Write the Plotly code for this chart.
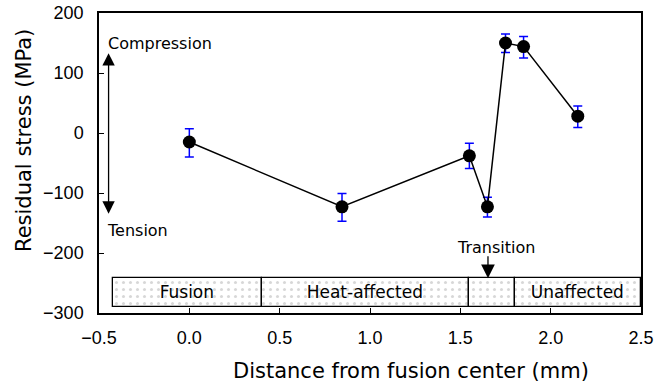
import plotly.graph_objects as go

# Data
distance = [0.0, 0.845, 1.55, 1.65, 1.75, 1.85, 2.15]
stress = [-15, -123, -38, -123, 150, 144, 28]
err_plus = [22, 22, 21, 16, 15, 17, 17]
err_minus = [25, 24, 21, 17, 16, 19, 19]

zone_names = ["Fusion", "Heat-affected", "", "Unaffected"]
zone_start = [-0.425, 0.40, 1.55, 1.80]
zone_end = [0.40, 1.55, 1.80, 2.50]
zone_bottom = -290
zone_top = -242

x_title = "Distance from fusion center (mm)"
y_title = "Residual stress (MPa)"

TXT = "DejaVu Sans"
TICK = "Liberation Sans"

fig = go.Figure()

fig.add_trace(go.Bar(
    orientation="h",
    y=[(zone_top + zone_bottom) / 2] * len(zone_names),
    x=[e - s for s, e in zip(zone_start, zone_end)],
    base=zone_start,
    width=zone_top - zone_bottom,
    text=zone_names,
    textposition="inside",
    insidetextanchor="middle",
    textangle=0,
    constraintext="none",
    textfont=dict(family=TXT, size=17, color="black"),
    marker=dict(
        color="white",
        line=dict(color="black", width=1.3),
        pattern=dict(shape=".", fgcolor="#b0b0b0", bgcolor="white", size=7, solidity=0.15),
    ),
    hoverinfo="skip",
    showlegend=False,
))

fig.add_trace(go.Scatter(
    x=distance, y=stress,
    mode="lines+markers",
    line=dict(color="black", width=1.5),
    marker=dict(color="black", size=13),
    error_y=dict(type="data", array=err_plus, arrayminus=err_minus,
                 color="blue", thickness=1.5, width=4.5, symmetric=False),
    showlegend=False,
))

# Compression / Tension double arrow
fig.add_annotation(x=-0.447, y=133, ax=-0.447, ay=-137, xref="x", yref="y",
                   axref="x", ayref="y", text="", showarrow=True,
                   arrowhead=2, startarrowhead=2, arrowside="end+start",
                   arrowsize=1.9, startarrowsize=1.9, arrowwidth=1.3, arrowcolor="black")
fig.add_annotation(x=-0.462, y=149, text="Compression", showarrow=False,
                   xanchor="left", yanchor="middle",
                   font=dict(family=TXT, size=16, color="black"))
fig.add_annotation(x=-0.465, y=-163, text="Tension", showarrow=False,
                   xanchor="left", yanchor="middle",
                   font=dict(family=TXT, size=16, color="black"))

# Transition arrow
fig.add_annotation(x=1.653, y=-242, ax=1.653, ay=-203, xref="x", yref="y",
                   axref="x", ayref="y", text="", showarrow=True,
                   arrowhead=2, arrowsize=2.1, arrowwidth=1.3, arrowcolor="black")
fig.add_annotation(x=1.7, y=-190, text="Transition", showarrow=False,
                   xanchor="center", yanchor="middle",
                   font=dict(family=TXT, size=16, color="black"))

# Axis titles (placed as annotations to match the reference offsets)
fig.add_annotation(x=0.5756, y=-0.2400, xref="paper", yref="paper",
                   text=x_title, showarrow=False, xanchor="center", yanchor="bottom",
                   font=dict(family=TXT, size=21, color="black"))
fig.add_annotation(x=-0.1384, y=0.5767, xref="paper", yref="paper",
                   text=y_title, showarrow=False, textangle=-90,
                   xanchor="center", yanchor="middle",
                   font=dict(family=TXT, size=21, color="black"))

fig.update_xaxes(
    range=[-0.5, 2.5], tickvals=[-0.5, 0, 0.5, 1.0, 1.5, 2.0, 2.5],
    ticktext=["−0.5", "0.0", "0.5", "1.0", "1.5", "2.0", "2.5"],
    ticks="inside", ticklen=5, tickcolor="black",
    showline=True, linecolor="black", linewidth=1.5, mirror=True,
    showgrid=False, zeroline=False, ticklabeloverflow="allow",
    ticklabelstandoff=8, automargin=False,
    tickfont=dict(family=TICK, size=18, color="black"),
)
fig.update_yaxes(
    range=[-300, 200], tickvals=[-300, -200, -100, 0, 100, 200],
    ticktext=["−300", "−200", "−100", "0", "100", "200"],
    ticks="inside", ticklen=5, tickcolor="black",
    showline=True, linecolor="black", linewidth=1.5, mirror=True,
    showgrid=False, zeroline=False, ticklabeloverflow="allow",
    ticklabelstandoff=10, automargin=False,
    tickfont=dict(family=TICK, size=18, color="black"),
)

fig.update_layout(
    width=668, height=386,
    margin=dict(l=99, r=27, t=13, b=73),
    plot_bgcolor="white", paper_bgcolor="white",
    bargap=0,
)

fig.write_html("out.html")
